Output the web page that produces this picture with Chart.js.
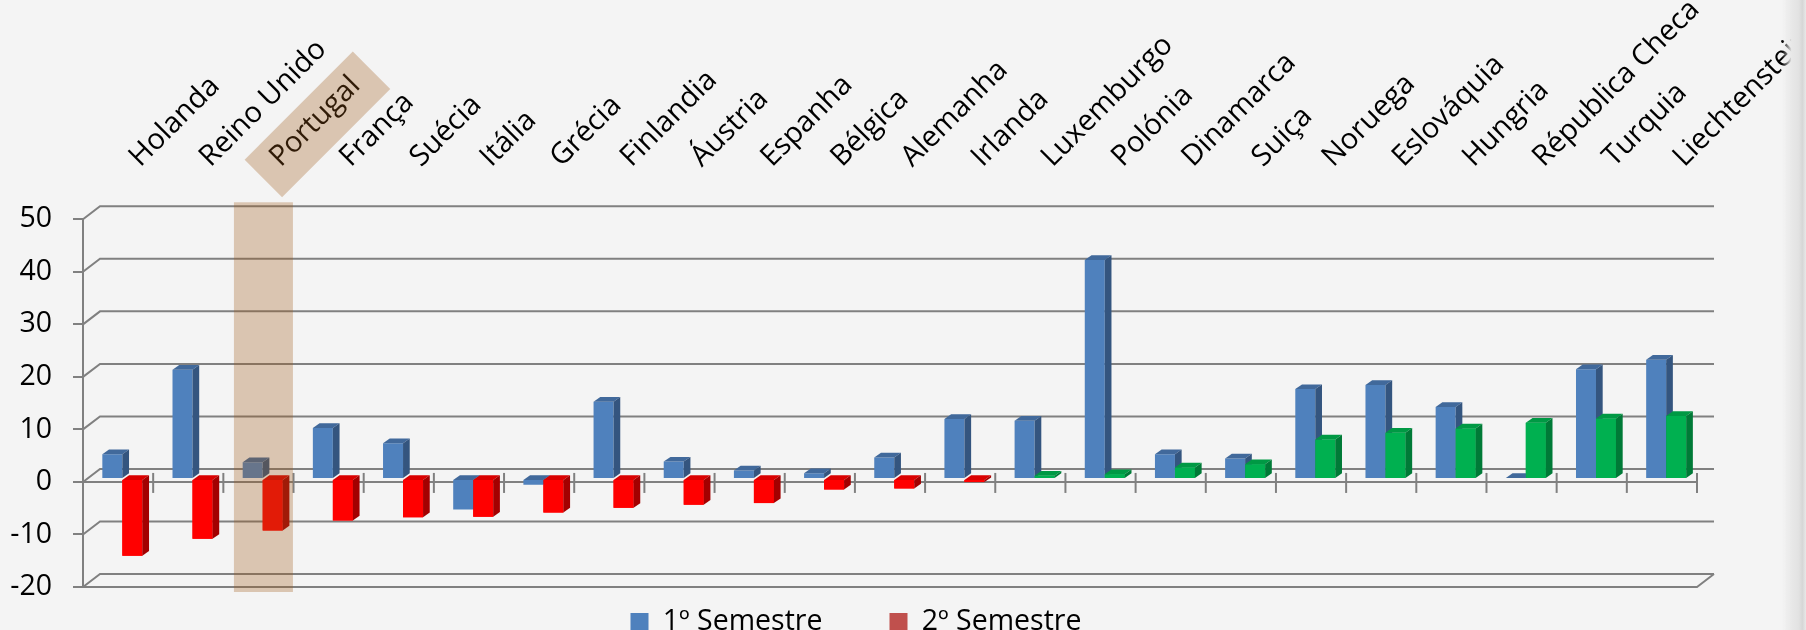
<!DOCTYPE html>
<html><head><meta charset="utf-8">
<script src="https://cdn.jsdelivr.net/npm/chart.js@4.4.0/dist/chart.umd.min.js"></script>
<style>
html,body{margin:0;padding:0;background:#F4F4F4;overflow:hidden}
#wrap{position:relative;width:1806px;height:630px;background:#F4F4F4}
#edge{position:absolute;right:0;top:0;width:24px;height:630px;background:linear-gradient(to right, rgba(244,244,244,0), rgba(232,232,232,1) 40%, #E2E2E2 70%, #D6D6D6 85%, #E8E8E8)}
</style></head><body>
<div id="wrap"><canvas id="c" width="1806" height="630"></canvas><div id="edge"></div></div>
<script>
// ---- data ----
const categories = ['Holanda','Reino Unido','Portugal','França','Suécia','Itália','Grécia','Finlandia','Áustria','Espanha','Bélgica','Alemanha','Irlanda','Luxemburgo','Polónia','Dinamarca','Suiça','Noruega','Eslováquia','Hungria','Républica Checa','Turquia','Liechtenstein'];
const semestre1 = [4.7, 20.8, 3.2, 9.7, 6.8, -5.8, -1.1, 14.7, 3.3, 1.6, 1.1, 4.1, 11.4, 11.1, 41.7, 4.7, 3.9, 17.1, 17.9, 13.7, 0.2, 20.9, 22.7];
const semestre2 = [-14.6, -11.4, -9.8, -7.9, -7.3, -7.2, -6.4, -5.5, -4.9, -4.6, -2.0, -1.8, -0.6, 0.6, 0.9, 2.2, 2.8, 7.5, 8.8, 9.6, 10.7, 11.5, 12.0];
const seriesNames = ['1º Semestre', '2º Semestre'];
const yTickValues = [-20, -10, 0, 10, 20, 30, 40, 50];
const highlightCategory = 'Portugal';

// ---- style ----
const BLUE = '#4F81BD', RED = '#FF0000', GREEN = '#00B050';
const legendColors = ['#4F81BD', '#C0504D'];
const faceColors = {
  '#4F81BD': {top: '#41699B', side: '#34557F'},
  '#FF0000': {top: '#DA0000', side: '#A30000'},
  '#00B050': {top: '#009944', side: '#007A37'}
};
const GRID = '#808080';
const WALL_DX = 17, WALL_DY = -13;
const BAR_SHIFT_X = 4.25, BAR_SHIFT_Y = -3;
const FACE_DX = 6.7, FACE_DY = -4.7;
const FONT = 'Open Sans';

Chart.defaults.font.family = FONT;
Chart.defaults.color = '#000';

const colors2 = semestre2.map(v => v < 0 ? RED : GREEN);

function drawFaces(ctx, chart, dsIndex) {
  const meta = chart.getDatasetMeta(dsIndex);
  const ds = chart.data.datasets[dsIndex];
  meta.data.forEach((el, i) => {
    const p = el.getProps(['x', 'y', 'base', 'width'], true);
    const col = Array.isArray(ds.backgroundColor) ? ds.backgroundColor[i] : ds.backgroundColor;
    const fc = faceColors[col];
    const l = p.x - p.width / 2, r = p.x + p.width / 2;
    const t = Math.min(p.y, p.base), b = Math.max(p.y, p.base);
    ctx.fillStyle = fc.top;
    ctx.beginPath();
    ctx.moveTo(l, t); ctx.lineTo(l + FACE_DX, t + FACE_DY); ctx.lineTo(r + FACE_DX, t + FACE_DY); ctx.lineTo(r, t);
    ctx.closePath(); ctx.fill();
    ctx.fillStyle = fc.side;
    ctx.beginPath();
    ctx.moveTo(r, t); ctx.lineTo(r + FACE_DX, t + FACE_DY); ctx.lineTo(r + FACE_DX, b + FACE_DY); ctx.lineTo(r, b);
    ctx.closePath(); ctx.fill();
  });
}

const chart3d = {
  id: 'chart3d',
  afterInit(chart) {
    const lg = chart.legend;
    const f = lg.fit.bind(lg);
    lg.fit = function () { f(); this.height = 43; };
    const d = lg.draw.bind(lg);
    lg.draw = function () {
      const t = this.top, l = this.left;
      this.top = t - 46.25; this.left = l + 15;
      d();
      this.top = t; this.left = l;
    };
  },
  beforeDatasetsDraw(chart) {
    const {ctx, chartArea: a, scales: {x, y}} = chart;
    ctx.save();
    ctx.strokeStyle = GRID; ctx.lineWidth = 2;
    yTickValues.forEach(v => {
      const py = y.getPixelForValue(v);
      ctx.beginPath();
      ctx.moveTo(a.left, py);
      ctx.lineTo(a.left + WALL_DX, py + WALL_DY);
      ctx.lineTo(a.right + WALL_DX, py + WALL_DY);
      ctx.stroke();
    });
    const pb = y.getPixelForValue(yTickValues[0]);
    ctx.beginPath();
    ctx.moveTo(a.left, pb); ctx.lineTo(a.right, pb); ctx.lineTo(a.right + WALL_DX, pb + WALL_DY);
    ctx.stroke();
    const p0 = y.getPixelForValue(0);
    ctx.beginPath(); ctx.moveTo(a.left, p0); ctx.lineTo(a.right, p0); ctx.stroke();
    const half = (x.getPixelForValue(1) - x.getPixelForValue(0)) / 2;
    for (let i = 0; i < categories.length; i++) {
      const px = x.getPixelForValue(i) + half;
      ctx.beginPath(); ctx.moveTo(px, p0 - 9); ctx.lineTo(px, p0 + 11); ctx.stroke();
    }
    ctx.restore();
    ctx.save();
    ctx.translate(BAR_SHIFT_X, BAR_SHIFT_Y);
  },
  afterDatasetsDraw(chart) {
    const ctx = chart.ctx;
    drawFaces(ctx, chart, 0);
    chart.getDatasetMeta(1).data.forEach(el => el.draw(ctx, chart.chartArea));
    drawFaces(ctx, chart, 1);
    ctx.restore();
  },
  afterDraw(chart) {
    const {ctx, scales: {x, y}} = chart;
    const idx = categories.indexOf(highlightCategory);
    const cx = x.getPixelForValue(idx);
    const top = y.getPixelForValue(yTickValues[yTickValues.length - 1]) + WALL_DY - 4;
    const bot = y.getPixelForValue(yTickValues[0]) + 5;
    ctx.save();
    ctx.fillStyle = 'rgba(160,88,22,0.3)';
    ctx.fillRect(cx - 24.5, top, 59, bot - top);
    const tk = x.options.ticks;
    const ax = cx + tk.labelOffset, ay = x.bottom - tk.padding;
    ctx.translate(ax + 18, ay - 50);
    ctx.rotate(-Math.PI / 4);
    ctx.fillRect(-76.5, -26.5, 153, 53);
    ctx.restore();
  }
};

new Chart(document.getElementById('c'), {
  type: 'bar',
  data: {
    labels: categories,
    datasets: [
      {label: seriesNames[0], data: semestre1, backgroundColor: BLUE, borderWidth: 0, categoryPercentage: 0.57, barPercentage: 1},
      {label: seriesNames[1], data: semestre2, backgroundColor: colors2, borderWidth: 0, categoryPercentage: 0.57, barPercentage: 1}
    ]
  },
  options: {
    responsive: false,
    animation: false,
    devicePixelRatio: 1,
    layout: {padding: {left: 0, right: 109, top: 0, bottom: 0}},
    scales: {
      x: {
        position: 'top',
        grid: {display: false, drawTicks: false},
        border: {display: false},
        ticks: {autoSkip: false, minRotation: 45, maxRotation: 45, padding: 45, labelOffset: 41, color: '#000', font: {size: 29}},
        afterFit(s) { s.height = 219.3; s.paddingLeft = 0; s.paddingRight = 0; }
      },
      y: {
        min: -20, max: 50,
        afterBuildTicks(s) { s.ticks = yTickValues.map(v => ({value: v})); },
        grid: {drawOnChartArea: false, drawTicks: true, tickLength: 10, color: GRID, lineWidth: 2},
        border: {display: true, color: GRID, width: 2},
        ticks: {padding: 21, color: '#000', font: {size: 28.5}},
        afterFit(s) { s.width = 83; }
      }
    },
    plugins: {
      tooltip: {enabled: false},
      legend: {
        position: 'bottom',
        labels: {
          boxWidth: 18, boxHeight: 18, padding: 67, color: '#000', font: {size: 28.5},
          generateLabels(chart) {
            const items = Chart.defaults.plugins.legend.labels.generateLabels(chart);
            items.forEach(it => { it.fillStyle = legendColors[it.datasetIndex]; it.strokeStyle = legendColors[it.datasetIndex]; it.lineWidth = 0; });
            return items.sort((a, b) => a.datasetIndex - b.datasetIndex);
          }
        }
      }
    }
  },
  plugins: [chart3d]
});
</script>
</body></html>
